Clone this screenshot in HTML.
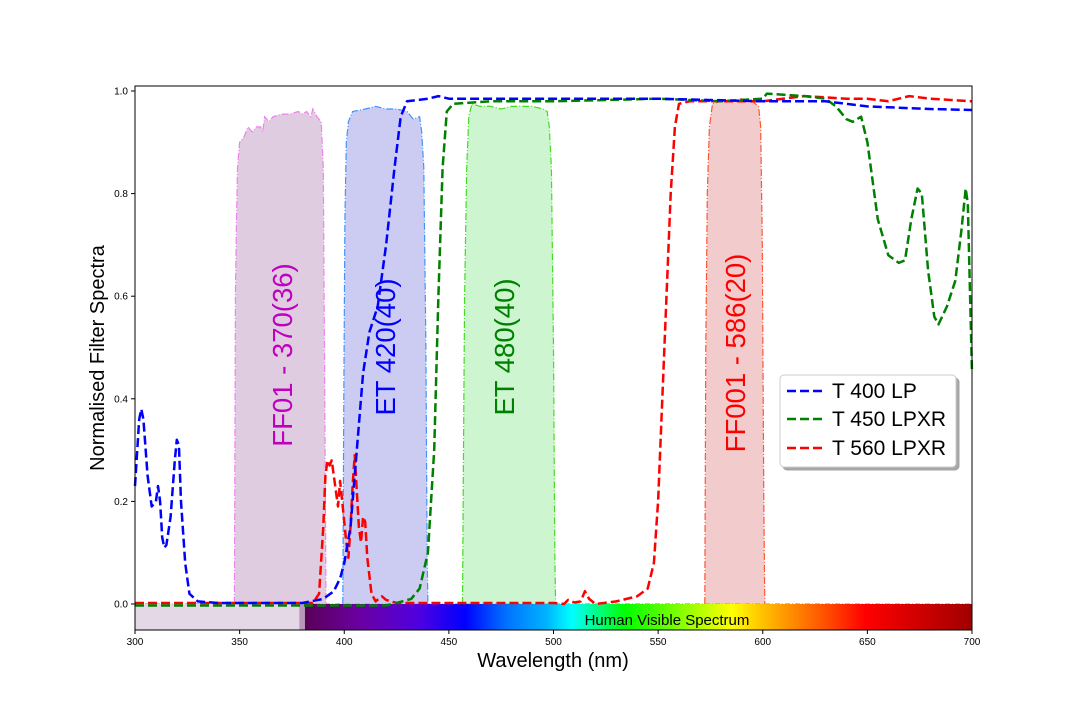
<!DOCTYPE html>
<html><head><meta charset="utf-8"><style>
body{margin:0;background:#fff;}
svg{font-family:"Liberation Sans",sans-serif;}
</style></head><body>
<svg id="chart" width="1080" height="720" viewBox="0 0 1080 720" xmlns="http://www.w3.org/2000/svg">
<defs>
<linearGradient id="spec" x1="0" x2="1" y1="0" y2="0">
<stop offset="0" stop-color="#5a0058"/>
<stop offset="0.08" stop-color="#6a00a0"/>
<stop offset="0.17" stop-color="#5000e0"/>
<stop offset="0.24" stop-color="#0000ff"/>
<stop offset="0.30" stop-color="#0070ff"/>
<stop offset="0.36" stop-color="#00b0ff"/>
<stop offset="0.40" stop-color="#00ffff"/>
<stop offset="0.44" stop-color="#00ff80"/>
<stop offset="0.48" stop-color="#00ff00"/>
<stop offset="0.58" stop-color="#a0ff00"/>
<stop offset="0.64" stop-color="#ffff00"/>
<stop offset="0.70" stop-color="#ffb000"/>
<stop offset="0.78" stop-color="#ff5000"/>
<stop offset="0.84" stop-color="#ff0000"/>
<stop offset="1" stop-color="#a00000"/>
</linearGradient>
<filter id="sh" x="-10%" y="-10%" width="130%" height="130%"><feDropShadow dx="3" dy="3" stdDeviation="0" flood-color="#000" flood-opacity="0.35"/></filter>
</defs>
<g id="bands"></g>
<g id="spectrum"></g>
<g id="lines"></g>
<g id="labels"></g>
<rect x="135" y="86" width="837" height="544" fill="none" stroke="#000" stroke-width="1"/>
<g id="axes"></g>
<text x="553" y="667" text-anchor="middle" font-size="20">Wavelength (nm)</text>
<text transform="translate(104,358) rotate(-90)" text-anchor="middle" font-size="20">Normalised Filter Spectra</text>
<g filter="url(#sh)">
<rect x="780" y="375" width="176" height="92" rx="4" fill="#fff" stroke="#ccc"/>
</g>
<g id="legend"></g>
</svg>
<script>
const xTicks=[300,350,400,450,500,550,600,650,700];
const yTicks=[0.0,0.2,0.4,0.6,0.8,1.0];
const t400W=[300,302,303,304,306,308,310,311,312,313,314,315,317,319,320,321,322,324,326,330,340,380,390,395,398,400,403,406,409,412,416,420,424,427,430,440,445,450,470,500,550,600,630,650,680,700];
const t400V=[0.23,0.36,0.38,0.36,0.25,0.19,0.2,0.23,0.2,0.13,0.11,0.115,0.17,0.28,0.32,0.31,0.2,0.08,0.02,0.005,0.002,0.002,0.01,0.025,0.05,0.08,0.15,0.3,0.45,0.53,0.58,0.7,0.85,0.95,0.98,0.985,0.99,0.985,0.985,0.985,0.985,0.98,0.98,0.97,0.965,0.963];
const t450W=[300,420,425,432,436,440,443,445,447,449,452,470,500,550,580,600,602,620,630,635,640,643,647,650,655,660,665,668,671,674,676,679,682,684,688,692,695,697,698,700];
const t450V=[-0.003,-0.003,0.002,0.01,0.03,0.1,0.3,0.6,0.85,0.96,0.975,0.98,0.98,0.985,0.98,0.985,0.995,0.99,0.985,0.97,0.945,0.94,0.95,0.9,0.75,0.68,0.665,0.67,0.75,0.81,0.8,0.65,0.56,0.545,0.58,0.63,0.73,0.81,0.78,0.45];
const t560W=[300,385,388,390,391,392,393,394,396,397,398,399,401,402,403,404,405,406,407,408,409,410,411,413,415,418,420,425,500,505,507,510,513,515,517,520,530,540,545,548,550,552,554,556,558,560,565,600,620,640,650,660,670,680,700];
const t560V=[0.002,0.002,0.02,0.15,0.25,0.28,0.27,0.28,0.22,0.19,0.24,0.2,0.12,0.09,0.15,0.23,0.29,0.22,0.15,0.12,0.17,0.16,0.09,0.02,0.005,0.015,0.008,0.002,0.002,0,0.008,0.003,0.005,0.025,0.01,0,0.005,0.015,0.03,0.08,0.2,0.4,0.6,0.8,0.93,0.975,0.98,0.98,0.99,0.985,0.985,0.98,0.99,0.985,0.98];
const ff370W=[347.5,348,348.5,349,350,352,354,356,358,360,361,362,364,366,370,374,378,380,382,384,385,387,389,390,390.7,391.3];
const ff370V=[0,0.6,0.75,0.85,0.9,0.91,0.93,0.92,0.93,0.93,0.92,0.95,0.94,0.95,0.955,0.955,0.96,0.955,0.96,0.95,0.965,0.95,0.94,0.85,0.4,0];
const et420W=[399.3,399.8,400.3,401,402,404,410,415,420,425,430,433,436,437,438,439,439.6,440];
const et420V=[0,0.4,0.75,0.9,0.94,0.96,0.965,0.97,0.965,0.965,0.96,0.945,0.95,0.92,0.85,0.5,0.1,0];
const et480W=[456.5,457,457.5,458.5,459.5,461,465,470,475,480,490,495,497,498,499,500,500.6,501];
const et480V=[0,0.3,0.6,0.85,0.95,0.975,0.97,0.97,0.965,0.97,0.97,0.965,0.96,0.93,0.85,0.5,0.1,0];
const ff586W=[572.3,572.8,573.5,574.5,576,580,585,590,595,598,599,599.8,600.5,601];
const ff586V=[0,0.5,0.8,0.93,0.975,0.98,0.98,0.985,0.98,0.97,0.93,0.7,0.2,0];

const NS="http://www.w3.org/2000/svg";
const X=w=>135+(w-300)*837/400;
const Y=v=>604-v*513;
function mk(tag,attrs,parent){const e=document.createElementNS(NS,tag);for(const k in attrs)e.setAttribute(k,attrs[k]);parent.appendChild(e);return e;}
const pts=(W,V)=>W.map((w,i)=>X(w).toFixed(1)+","+Y(V[i]).toFixed(1)).join(" ");

const bands=document.getElementById('bands');
[[ff370W,ff370V,'#e0cce0','#ee82ee','band-ff01-370'],[et420W,et420V,'#ccccf2','#3f94ff','band-et-420'],[et480W,et480V,'#ccf5d0','#44dd22','band-et-480'],[ff586W,ff586V,'#f2cccc','#ff5533','band-ff001-586']].forEach(b=>{
 const p=mk('polygon',{points:pts(b[0],b[1]),fill:b[2],stroke:'none'},bands);
 
 
 const l=mk('polyline',{points:pts(b[0],b[1]),fill:'none',stroke:b[3],'stroke-width':1.2,'stroke-dasharray':'7,2,1,2'},bands);
 
 
});
mk('line',{x1:135,x2:972,y1:604,y2:604,stroke:'#ee82ee','stroke-width':1.5,'stroke-dasharray':'5,2,1,2'},bands);

const sp=document.getElementById('spectrum');
const r1=mk('rect',{x:135,y:604,width:X(378.5)-135,height:26,fill:'#e4d8e6'},sp);


mk('rect',{x:X(378.5),y:604,width:X(381.2)-X(378.5),height:26,fill:'#b898b8'},sp);
const r2=mk('rect',{x:X(381.2),y:604,width:972-X(381.2),height:26,fill:'url(#spec)'},sp);


const st=mk('text',{x:667,y:625,'text-anchor':'middle','font-size':15,fill:'#000'},sp);
st.textContent='Human Visible Spectrum';



const lines=document.getElementById('lines');
[[t560W,t560V,'#ff0000','line-t560-lpxr'],[t450W,t450V,'#008000','line-t450-lpxr'],[t400W,t400V,'#0000ff','line-t400-lp']].forEach(s=>{
 const l=mk('polyline',{points:pts(s[0],s[1]),fill:'none',stroke:s[2],'stroke-width':2.5,'stroke-dasharray':'9,4','stroke-linejoin':'round'},lines);
 
 
});

const labs=document.getElementById('labels');
[['FF01 - 370(36)',283,355,'#bf00bf','label-ff01-370'],['ET 420(40)',386,347,'#0000ff','label-et-420'],['ET 480(40)',505,347,'#008000','label-et-480'],['FF001 - 586(20)',736,353,'#ff0000','label-ff001-586']].forEach(t=>{
 const e=mk('text',{transform:`translate(${t[1]+9},${t[2]}) rotate(-90)`,'text-anchor':'middle','font-size':27.5,fill:t[3]},labs);
 e.textContent=t[0];
 
 
});

const ax=document.getElementById('axes');
xTicks.forEach(v=>{
 mk('line',{x1:X(v),x2:X(v),y1:630,y2:634,stroke:'#000'},ax);
 const t=mk('text',{x:X(v),y:645,'text-anchor':'middle','font-size':10},ax);
 t.textContent=v;
 
 
});
yTicks.forEach(v=>{
 mk('line',{x1:131,x2:135,y1:Y(v),y2:Y(v),stroke:'#000'},ax);
 const t=mk('text',{x:128,y:Y(v)+3.5,'text-anchor':'end','font-size':10},ax);
 t.textContent=v.toFixed(1);
 
 
});

const lg=document.getElementById('legend');
[['T 400 LP','#0000ff',391],['T 450 LPXR','#008000',419],['T 560 LPXR','#ff0000',448]].forEach(e=>{
 mk('line',{x1:787,x2:823,y1:e[2],y2:e[2],stroke:e[1],'stroke-width':2.5,'stroke-dasharray':'9,4'},lg);
 const t=mk('text',{x:832,y:e[2]+7,'font-size':21},lg);
 t.textContent=e[0];
 
 
});
</script>
</body></html>
